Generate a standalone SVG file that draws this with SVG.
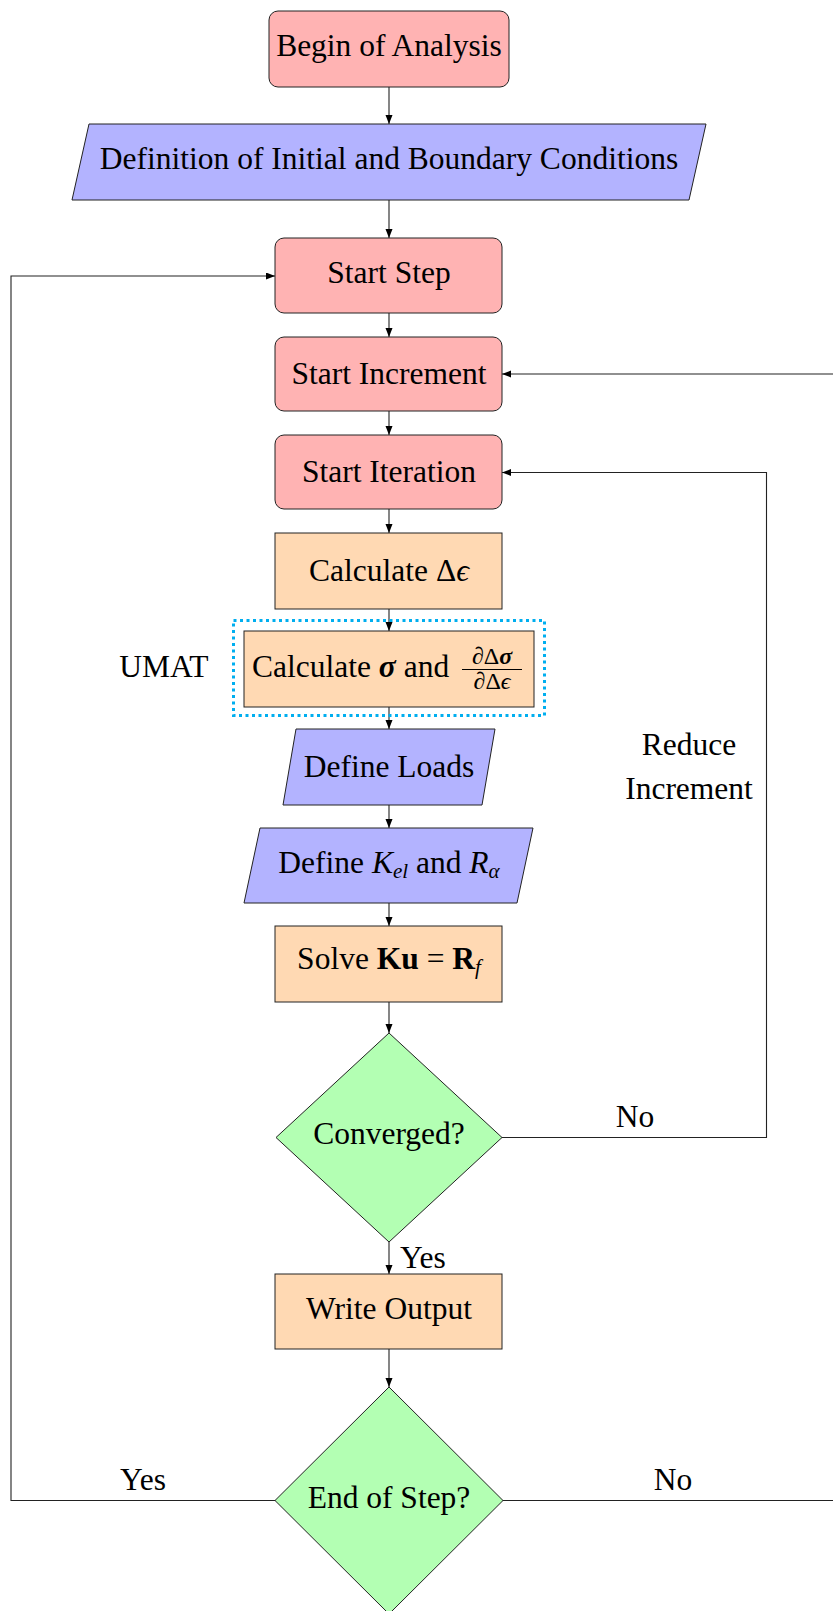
<svg xmlns="http://www.w3.org/2000/svg" width="833" height="1611" viewBox="0 0 833 1611">
<defs>
<marker id="ah" markerUnits="userSpaceOnUse" markerWidth="10" markerHeight="8" refX="9" refY="3.5" orient="auto">
<path d="M0,0 L9,3.5 L0,7 Z" fill="#000"/>
</marker>
<style>
text{font-family:"Liberation Serif","Times New Roman",serif;font-size:31.5px;fill:#000}
.c{text-anchor:middle}
.sub{font-size:21px}
.small{font-size:24px}
.red{fill:#FFB3B3;stroke:#222;stroke-width:1}
.blue{fill:#B3B3FF;stroke:#222;stroke-width:1}
.orange{fill:#FFD9B3;stroke:#222;stroke-width:1}
.green{fill:#B3FFB3;stroke:#222;stroke-width:1}
.conn path{fill:none;stroke:#222;stroke-width:1.1}
.arr{marker-end:url(#ah)}
.dot{fill:none;stroke:#00AEEF;stroke-width:3;stroke-dasharray:3 3.5}
</style>
</defs>
<rect width="833" height="1611" fill="#fff"/>

<g id="connectors" class="conn">
<path class="arr" d="M389 87 V124"/>
<path class="arr" d="M389 200 V238"/>
<path class="arr" d="M389 313 V337"/>
<path class="arr" d="M389 411 V435"/>
<path class="arr" d="M389 509 V533"/>
<path class="arr" d="M389 609 V631"/>
<path class="arr" d="M389 707 V729"/>
<path class="arr" d="M389 805 V828"/>
<path class="arr" d="M389 903 V926"/>
<path class="arr" d="M389 1002 V1033"/>
<path class="arr" d="M389 1242 V1274"/>
<path class="arr" d="M389 1349 V1387"/>
<path class="arr" d="M502 1137.5 H766.5 V472.5 H502"/>
<path class="arr" d="M275 1500.5 H11 V276 H275"/>
<path class="arr" d="M503 1500.5 H840 V374 H502"/>
</g>

<g id="begin">
<rect class="red" x="269" y="11" width="240" height="76" rx="9"/>
<text class="c" x="389" y="56">Begin of Analysis</text>
</g>

<g id="definition">
<polygon class="blue" points="89,124 706,124 689,200 72,200"/>
<text class="c" x="389" y="169">Definition of Initial and Boundary Conditions</text>
</g>

<g id="start-step">
<rect class="red" x="275" y="238" width="227" height="75" rx="9"/>
<text class="c" x="389" y="283">Start Step</text>
</g>

<g id="start-increment">
<rect class="red" x="275" y="337" width="227" height="74" rx="9"/>
<text class="c" x="389" y="384">Start Increment</text>
</g>

<g id="start-iteration">
<rect class="red" x="275" y="435" width="227" height="74" rx="9"/>
<text class="c" x="389" y="482">Start Iteration</text>
</g>

<g id="calc-deps">
<rect class="orange" x="275" y="533" width="227" height="76"/>
<text class="c" x="389" y="581">Calculate Δ<tspan font-style="italic">ϵ</tspan></text>
</g>

<g id="umat">
<rect class="dot" x="233.5" y="620.5" width="311" height="95"/>
<rect class="orange" x="244" y="631" width="290" height="76"/>
<text x="252" y="677">Calculate <tspan font-weight="bold" font-style="italic">σ</tspan> and</text>
<text class="c small" x="492" y="664">∂Δ<tspan font-weight="bold" font-style="italic">σ</tspan></text>
<path d="M462 669.5 H522" stroke="#000" stroke-width="1.1"/>
<text class="c small" x="492" y="689">∂Δ<tspan font-style="italic">ϵ</tspan></text>
<text class="c" x="164" y="677">UMAT</text>
</g>

<g id="define-loads">
<polygon class="blue" points="296,729 495,729 482,805 283,805"/>
<text class="c" x="389" y="777">Define Loads</text>
</g>

<g id="define-k">
<polygon class="blue" points="260,828 533,828 517,903 244,903"/>
<text class="c" x="389" y="873">Define <tspan font-style="italic">K</tspan><tspan class="sub" font-style="italic" dy="5">el</tspan><tspan dy="-5"> and </tspan><tspan font-style="italic">R</tspan><tspan class="sub" font-style="italic" dy="5">α</tspan></text>
</g>

<g id="solve">
<rect class="orange" x="275" y="926" width="227" height="76"/>
<text class="c" x="389" y="969">Solve <tspan font-weight="bold">Ku</tspan> = <tspan font-weight="bold">R</tspan><tspan class="sub" font-style="italic" dy="5">f</tspan></text>
</g>

<g id="converged">
<polygon class="green" points="389,1033 502,1137.5 389,1242 276,1137.5"/>
<text class="c" x="389" y="1144">Converged?</text>
</g>

<g id="write-output">
<rect class="orange" x="275" y="1274" width="227" height="75"/>
<text class="c" x="389" y="1319">Write Output</text>
</g>

<g id="end-of-step">
<polygon class="green" points="389,1387 503,1500.5 389,1614 275,1500.5"/>
<text class="c" x="389" y="1508">End of Step?</text>
</g>

<g id="labels">
<text class="c" x="689" y="755">Reduce</text>
<text class="c" x="689" y="799">Increment</text>
<text class="c" x="635" y="1127">No</text>
<text x="400" y="1268">Yes</text>
<text class="c" x="143" y="1490">Yes</text>
<text class="c" x="673" y="1490">No</text>
</g>
</svg>
